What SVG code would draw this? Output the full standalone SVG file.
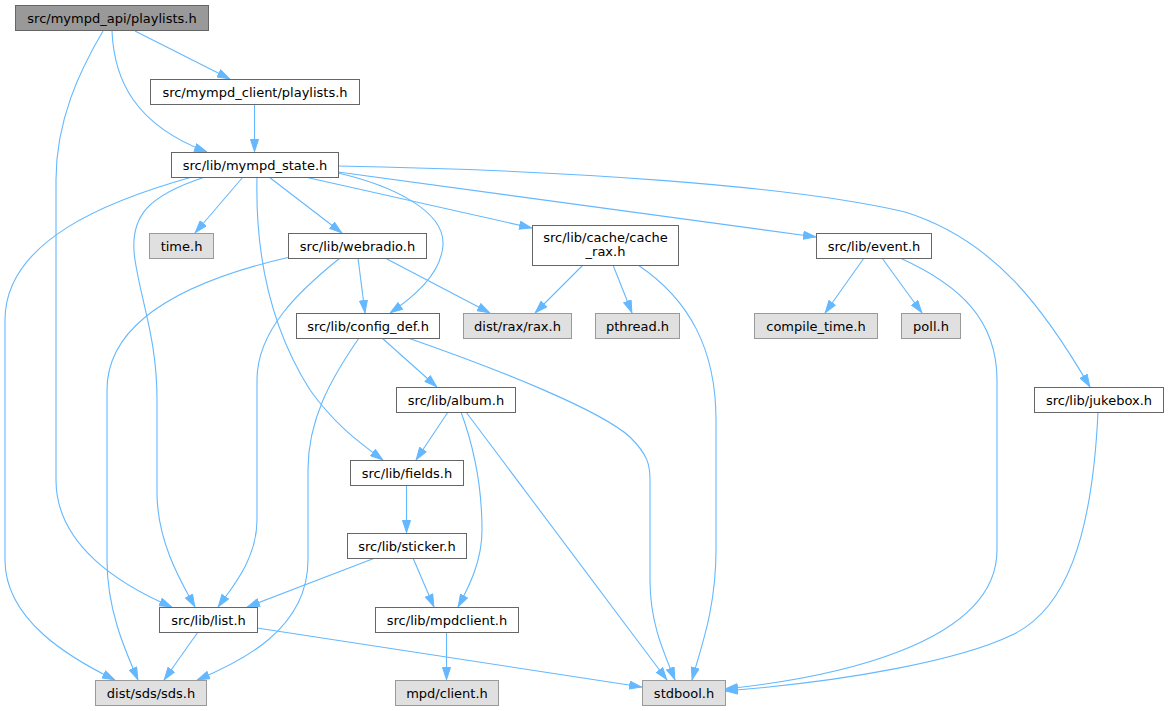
<svg xmlns="http://www.w3.org/2000/svg" width="1168" height="711" viewBox="0 0 1168 711">
<style>
.n rect{fill:#ffffff;stroke:#666666;stroke-width:1}
.x rect{fill:#e0e0e0;stroke:#999999;stroke-width:1}
.r rect{fill:#999999;stroke:#666666;stroke-width:1}
text{font-family:"DejaVu Sans","Liberation Sans",sans-serif;font-size:13px;fill:#000000;text-anchor:middle}
.e path{fill:none;stroke:#63b8ff;stroke-width:1.1;marker-end:url(#arr)}
</style>
<defs>
<marker id="arr" viewBox="0 0 13 9" refX="13" refY="4.5" markerWidth="13" markerHeight="9" markerUnits="userSpaceOnUse" orient="auto">
<path d="M0.5,0.5 L12.5,4.5 L0.5,8.5 z" fill="#63b8ff" stroke="#63b8ff" stroke-width="1"/>
</marker>
</defs>
<rect width="1168" height="711" fill="#ffffff"/>
<g id="edges" class="e">
<path d="M135,31 L230,79"/>
<path d="M112,31 C114,80 135,125 207,152"/>
<path d="M103,31 C80,70 56,120 56,180 L56,480 C56,545 120,585 172,607"/>
<path d="M254.5,104 L254.5,152"/>
<path d="M243,177 L195,233"/>
<path d="M269,177 L342,233"/>
<path d="M192,177 C110,200 5,240 5,320 L5,560 C5,620 70,658 115,680"/>
<path d="M205,177 C150,195 128,215 135,260 C142,305 157,340 157,400 L157,495 C158,545 183,585 195,607"/>
<path d="M257,177 C255,260 272,330 310,390 C335,425 360,443 383,460"/>
<path d="M338,173 C390,185 445,210 443,245 C441,275 412,298 390,313"/>
<path d="M305,177 L532,228"/>
<path d="M338,172 L816,237"/>
<path d="M338,166 C560,170 790,185 905,212 C995,240 1045,310 1090,387"/>
<path d="M358,258 L365,313"/>
<path d="M385,258 L490,313"/>
<path d="M290,257 C190,280 107,320 107,390 L107,560 C107,610 125,650 138,680"/>
<path d="M340,258 C300,290 257,330 257,380 L257,520 C257,560 230,590 218,607"/>
<path d="M583,265 L535,313"/>
<path d="M613,265 L632,313"/>
<path d="M638,265 C690,300 716,350 716,420 L716,550 C716,610 700,650 692,680"/>
<path d="M864,258 L825,313"/>
<path d="M882,258 L922,313"/>
<path d="M900,258 C960,285 997,320 997,380 L997,550 C997,645 830,678 725,689"/>
<path d="M1098,412 C1092,540 1065,610 1012,635 C960,660 850,681 725,691"/>
<path d="M382,338 L437,387"/>
<path d="M359,338 C330,380 308,420 308,470 L308,560 C308,630 240,662 197,680"/>
<path d="M408,338 C500,370 600,410 630,437 C648,455 650,465 650,480 L650,580 C650,625 665,655 675,680"/>
<path d="M448,412 L416,460"/>
<path d="M461,412 C475,450 482,490 482,530 C482,560 470,585 458,607"/>
<path d="M466,412 L667,680"/>
<path d="M406.5,485 L406.5,533"/>
<path d="M375,558 L247,607"/>
<path d="M413,558 L434,607"/>
<path d="M198,632 L164,680"/>
<path d="M257,628 L642,687"/>
<path d="M446.5,632 L446.5,680"/>
</g>
<g id="n_root" class="r"><rect x="15.5" y="5.5" width="193" height="25"/><text x="112" y="22.5">src/mympd_api/playlists.h</text></g>
<g id="n_clientpl" class="n"><rect x="150.5" y="79.5" width="209" height="25"/><text x="255" y="96.5">src/mympd_client/playlists.h</text></g>
<g id="n_state" class="n"><rect x="171.5" y="152.5" width="167" height="25"/><text x="255" y="169.5">src/lib/mympd_state.h</text></g>
<g id="n_time" class="x"><rect x="149.5" y="233.5" width="64" height="25"/><text x="181.5" y="250.5">time.h</text></g>
<g id="n_webradio" class="n"><rect x="288.5" y="233.5" width="138" height="25"/><text x="357.5" y="250.5">src/lib/webradio.h</text></g>
<g id="n_cacherax" class="n"><rect x="532.5" y="225.5" width="146" height="40"/><text x="605.5" y="242">src/lib/cache/cache</text><text x="605.5" y="256">_rax.h</text></g>
<g id="n_event" class="n"><rect x="816.5" y="233.5" width="115" height="25"/><text x="874" y="250.5">src/lib/event.h</text></g>
<g id="n_configdef" class="n"><rect x="296.5" y="313.5" width="143" height="25"/><text x="368" y="330.5">src/lib/config_def.h</text></g>
<g id="n_rax" class="x"><rect x="463.5" y="313.5" width="108" height="25"/><text x="517.5" y="330.5">dist/rax/rax.h</text></g>
<g id="n_pthread" class="x"><rect x="595.5" y="313.5" width="84" height="25"/><text x="637.5" y="330.5">pthread.h</text></g>
<g id="n_compile" class="x"><rect x="754.5" y="313.5" width="123" height="25"/><text x="816" y="330.5">compile_time.h</text></g>
<g id="n_poll" class="x"><rect x="901.5" y="313.5" width="59" height="25"/><text x="931" y="330.5">poll.h</text></g>
<g id="n_album" class="n"><rect x="396.5" y="387.5" width="119" height="25"/><text x="456" y="404.5">src/lib/album.h</text></g>
<g id="n_jukebox" class="n"><rect x="1034.5" y="387.5" width="129" height="25"/><text x="1099" y="404.5">src/lib/jukebox.h</text></g>
<g id="n_fields" class="n"><rect x="350.5" y="460.5" width="113" height="25"/><text x="407" y="477.5">src/lib/fields.h</text></g>
<g id="n_sticker" class="n"><rect x="347.5" y="533.5" width="119" height="25"/><text x="407" y="550.5">src/lib/sticker.h</text></g>
<g id="n_list" class="n"><rect x="159.5" y="607.5" width="98" height="25"/><text x="208.5" y="624.5">src/lib/list.h</text></g>
<g id="n_mpdclient" class="n"><rect x="375.5" y="607.5" width="143" height="25"/><text x="447" y="624.5">src/lib/mpdclient.h</text></g>
<g id="n_sds" class="x"><rect x="95.5" y="680.5" width="111" height="25"/><text x="151" y="697.5">dist/sds/sds.h</text></g>
<g id="n_mpdc" class="x"><rect x="395.5" y="680.5" width="103" height="25"/><text x="447" y="697.5">mpd/client.h</text></g>
<g id="n_stdbool" class="x"><rect x="642.5" y="680.5" width="83" height="25"/><text x="684" y="697.5">stdbool.h</text></g>
</svg>
